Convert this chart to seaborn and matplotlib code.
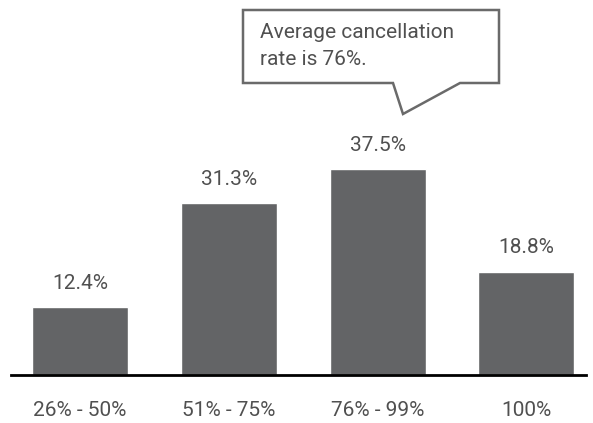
import matplotlib
matplotlib.use("Agg")
import matplotlib.pyplot as plt
from matplotlib.patches import Polygon
import seaborn as sns
import pandas as pd

categories = ["26% - 50%", "51% - 75%", "76% - 99%", "100%"]
shares = [12.4, 31.3, 37.5, 18.8]
callout_text = "Average cancellation\nrate is 76%."

sns.set_theme(style="white")
plt.rcParams["font.family"] = ["Roboto", "DejaVu Sans"]

W, H = 593, 423
fig = plt.figure(figsize=(W / 100, H / 100), dpi=100)
ax = fig.add_axes([11 / W, 48 / H, (586 - 11) / W, 1 - 48 / H])

df = pd.DataFrame({"range": categories, "share": shares})
sns.barplot(data=df, x="range", y="share", color="#636466", saturation=1,
            width=0.645, ax=ax)

ax.set_xlim(-0.464, 3.40)
ax.set_ylim(0, 68.4)
for s in ["top", "right", "left"]:
    ax.spines[s].set_visible(False)
ax.spines["bottom"].set_color("black")
ax.spines["bottom"].set_linewidth(2)
ax.set_xlabel("")
ax.set_ylabel("")
ax.set_yticks([])
ax.tick_params(axis="x", length=0, pad=19, labelsize=15, labelcolor="#505050")

for i, v in enumerate(shares):
    ax.annotate(f"{v}%", (i, v), xytext=(0, 24), textcoords="offset pixels",
                ha="center", va="center", fontsize=15, color="#505050")

# speech-bubble callout (figure pixel coordinates, y measured from top)
pts = [(243, 10), (499, 10), (499, 83), (460, 83), (403, 114), (393, 83), (243, 83)]
poly = Polygon([(x / W, 1 - y / H) for x, y in pts], closed=True,
               transform=fig.transFigure, facecolor="white", edgecolor="#6a6a6a",
               linewidth=1.8, joinstyle="miter")
fig.add_artist(poly)
fig.text(260 / W, 1 - 46 / H, callout_text, ha="left", va="center",
         fontsize=15, color="#505050", linespacing=1.5)

fig.savefig("out.png", dpi=100)
